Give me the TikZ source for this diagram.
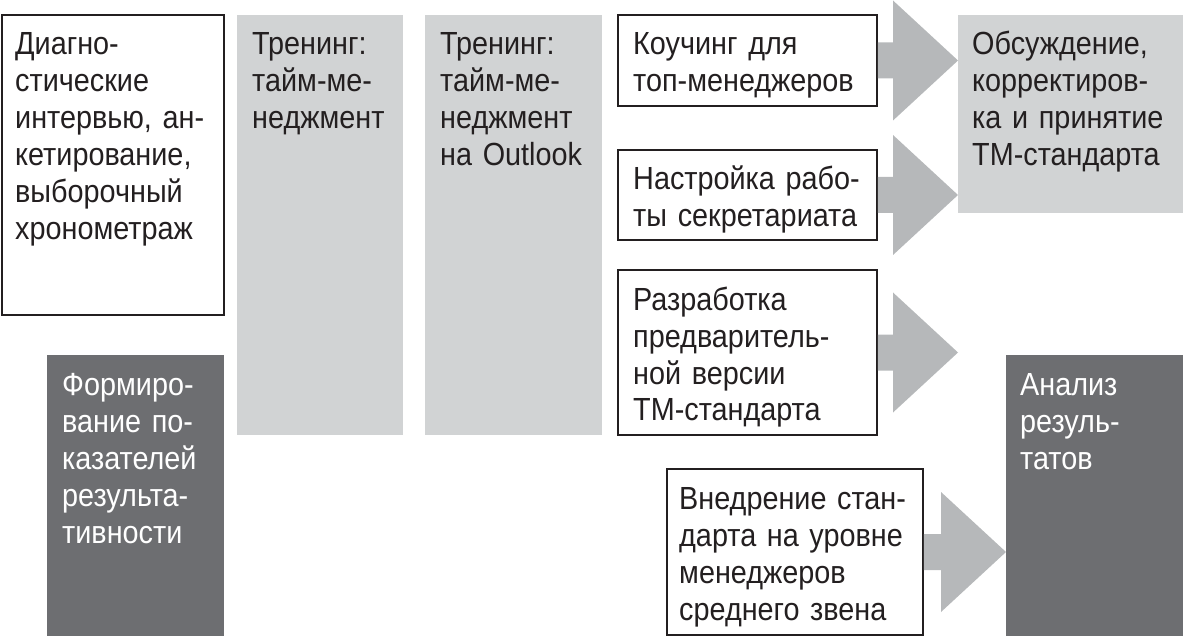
\documentclass[tikz,border=0pt]{standalone}
\usepackage{fontspec}
\setmainfont{Liberation Sans}[FakeStretch=0.9]
\usepackage{tikz}
\usetikzlibrary{calc}

% thick gray arrow from the east side of #1 to the west side of #2
\newcommand{\fatArrow}[2]{%
    \path ($(#1.east)+(0.8,0)$) coordinate (tail) (#2.west |- #1.east) coordinate (tip);
    \path [fill = arrowColor] ($(tail)+(0,-18)$) -- ($(tip)+(-65,-18)$) -- ($(tip)+(-65,-60)$) -- (tip) -- ($(tip)+(-65,60)$) -- ($(tip)+(-65,18)$) -- ($(tail)+(0,18)$) -- cycle;}

\begin{document}
\begin{tikzpicture}[x = 1pt, y = -1pt,
        box/.style = {anchor = north west, inner sep = 0pt, outer sep = 0pt},
        whiteBox/.style = {box, draw = textColor, line width = 1.6pt, fill = white},
        lightBox/.style = {box, fill = lightColor},
        darkBox/.style = {box, fill = darkColor},
        boxText/.style = {anchor = base west, inner sep = 0pt, align = left, text width = 250pt, text = textColor, font = \fontsize{32}{37}\selectfont},
        darkText/.style = {boxText, text = white}]
            % \draw [help lines] (0,0) grid[step = 50pt] (1183,636);
            \useasboundingbox (0,0) rectangle (1183,636);

            \definecolor{textColor}{RGB}{35,31,32};
            \definecolor{lightColor}{RGB}{209,211,212};
            \definecolor{darkColor}{RGB}{109,110,113};
            \definecolor{arrowColor}{RGB}{182,184,186};

            % left column
            \node [whiteBox, minimum width = 222pt, minimum height = 300pt] (diag) at (2,15) {};
            \node [boxText] (diagText) at ($(diag.north west)+(13,40)$) {Диагно-\\стические\\интервью, ан-\\кетирование,\\выборочный\\хронометраж};

            \node [darkBox, minimum width = 177pt, minimum height = 281pt] (metrics) at (47,355) {};
            \node [darkText] (metricsText) at ($(metrics.north west)+(15,40)$) {Формиро-\\вание по-\\казателей\\результа-\\тивности};

            % trainings
            \node [lightBox, minimum width = 166pt, minimum height = 420pt] (trainA) at (237,15) {};
            \node [boxText] (trainAText) at ($(trainA.north west)+(15,40)$) {Тренинг:\\тайм-ме-\\неджмент};

            \node [lightBox, minimum width = 177pt, minimum height = 420pt] (trainB) at (425,15) {};
            \node [boxText] (trainBText) at ($(trainB.north west)+(15,40)$) {Тренинг:\\тайм-ме-\\неджмент\\на Outlook};

            % right column
            \node [whiteBox, minimum width = 259pt, minimum height = 91pt] (coach) at (618,15) {};
            \node [boxText] (coachText) at ($(coach.north west)+(15,40)$) {Коучинг для\\топ-менеджеров};

            \node [whiteBox, minimum width = 259pt, minimum height = 90pt] (secr) at (618,150) {};
            \node [boxText] (secrText) at ($(secr.north west)+(15,40)$) {Настройка рабо-\\ты секретариата};

            \node [whiteBox, minimum width = 259pt, minimum height = 165pt] (draft) at (618,270) {};
            \node [boxText] (draftText) at ($(draft.north west)+(15,40)$) {Разработка\\предваритель-\\ной версии\\ТМ-стандарта};

            \node [whiteBox, minimum width = 256pt, minimum height = 166pt] (impl) at (667,469) {};
            \node [boxText] (implText) at ($(impl.north west)+(12,40)$) {Внедрение стан-\\дарта на уровне\\менеджеров\\среднего звена};

            \node [lightBox, minimum width = 225pt, minimum height = 198pt] (discuss) at (958,15) {};
            \node [boxText] (discussText) at ($(discuss.north west)+(14,40)$) {Обсуждение,\\корректиров-\\ка и принятие\\ТМ-стандарта};

            \node [darkBox, minimum width = 177pt, minimum height = 281pt] (analysis) at (1006,355) {};
            \node [darkText] (analysisText) at ($(analysis.north west)+(14,40)$) {Анализ\\резуль-\\татов};

            % arrows
            \fatArrow{coach}{discuss}
            \fatArrow{secr}{discuss}
            \fatArrow{draft}{discuss}
            \fatArrow{impl}{analysis}

\end{tikzpicture}
\end{document}
